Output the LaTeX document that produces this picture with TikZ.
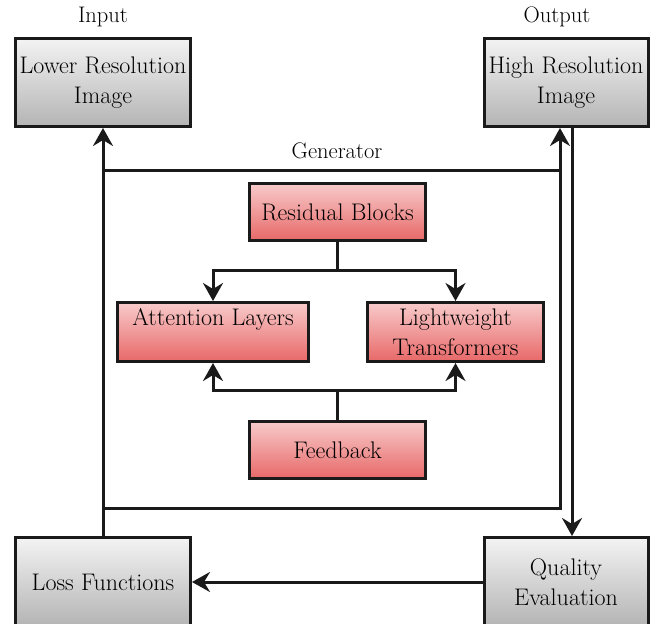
\documentclass[tikz,border=0pt]{standalone}
\usetikzlibrary{arrows.meta}
\definecolor{edge}{HTML}{1A1A1A}
\definecolor{gtop}{HTML}{F3F3F3}
\definecolor{gbot}{HTML}{B4B4B4}
\definecolor{rtop}{HTML}{F8CACA}
\definecolor{rbot}{HTML}{E86868}
\tikzset{
  box/.style={draw=edge, line width=3pt, inner sep=0pt, align=center,
    font=\rmfamily\fontsize{24}{30}\selectfont, text=black},
  graybox/.style={box, top color=gtop, bottom color=gbot},
  redbox/.style={box, top color=rtop, bottom color=rbot},
  conn/.style={draw=edge, line width=3pt},
  arr/.style={conn, -{Stealth[length=18pt,width=20pt,inset=6pt]}},
  lbl/.style={font=\rmfamily\fontsize{22.5}{26}\selectfont, text=black}
}
\begin{document}
\begin{tikzpicture}[x=1pt,y=-1pt]
\useasboundingbox (0,0) rectangle (651,624);
% outer nodes
\node[graybox, minimum width=175pt, minimum height=88pt] (lowres) at (103,82.5) {Lower Resolution\\Image};
\node[graybox, minimum width=164pt, minimum height=88pt] (highres) at (566,82.5) {High Resolution\\Image};
\node[graybox, minimum width=175pt, minimum height=89pt] (loss) at (103,582) {Loss Functions};
\node[graybox, minimum width=164pt, minimum height=89pt] (quality) at (566,582) {Quality\\Evaluation};
% labels
\node[lbl] (inlbl) at (103,17) {Input};
\node[lbl] (outlbl) at (557,17) {Output};
\node[lbl] (genlbl) at (337,151) {Generator};
% inner nodes
\node[redbox, minimum width=176pt, minimum height=57pt] (res) at (337.5,212) {Residual Blocks};
\node[redbox, minimum width=191pt, minimum height=59pt] (att) at (213,332) {Attention Layers\\\phantom{T}};
\node[redbox, minimum width=176pt, minimum height=59pt] (light) at (455.5,332) {Lightweight\\Transformers};
\node[redbox, minimum width=176pt, minimum height=57pt] (fb) at (337.5,450) {Feedback};
% generator frame
\coordinate (gtl) at (103,170);
\coordinate (gtr) at (560,170);
\coordinate (gbr) at (560,508);
\coordinate (gbl) at (103,508);
\draw[conn] (gbl) -- (gbr) -- (gtr);
\draw[arr] (gtl) -- (gtr) -- (highres.south -| gtr);
\draw[arr] (loss.north) -- (lowres.south);
\coordinate (qdown) at ([xshift=6pt]highres.south);
\draw[arr] (qdown) -- (qdown |- quality.north);
\draw[arr] (quality.west) -- (loss.east);
% inner connectors
\draw[arr] (res.south) -- ++(0,28) -| (att.north);
\draw[arr] (res.south) -- ++(0,28) -| (light.north);
\draw[arr] (fb.north) -- ++(0,-30) -| (att.south);
\draw[arr] (fb.north) -- ++(0,-30) -| (light.south);
\end{tikzpicture}
\end{document}
